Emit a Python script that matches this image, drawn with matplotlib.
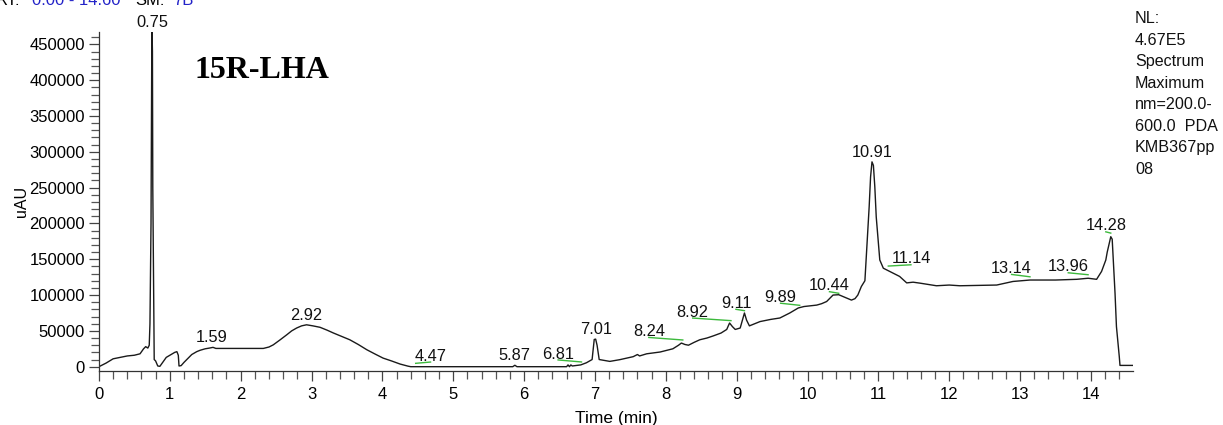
import numpy as np
import matplotlib
matplotlib.use("Agg")
import matplotlib.pyplot as plt
from matplotlib.ticker import MultipleLocator

plt.rcParams['font.family'] = ['Liberation Sans', 'DejaVu Sans']

# chromatogram trace: retention time (min) and detector response (uAU)
time_min = [0.00, 0.10, 0.20, 0.30, 0.40, 0.50, 0.58, 0.63, 0.66, 0.69,
            0.71, 0.72, 0.735, 0.745, 0.75, 0.755, 0.76, 0.775, 0.78, 0.80,
            0.83, 0.86, 0.90, 0.95, 1.02, 1.07, 1.10, 1.12, 1.13, 1.16,
            1.20, 1.25, 1.31, 1.38, 1.43, 1.50, 1.56, 1.61, 1.65, 2.32,
            2.40, 2.46, 2.55, 2.65, 2.72, 2.79, 2.86, 2.93, 3.02, 3.12,
            3.22, 3.31, 3.42, 3.54, 3.66, 3.78, 3.90, 4.01, 4.13, 4.25,
            4.36, 4.40, 5.84, 5.87, 5.90, 6.60, 6.62, 6.64, 6.66, 6.68,
            6.80, 6.88, 6.96, 6.99, 7.01, 7.03, 7.06, 7.21, 7.35, 7.45,
            7.54, 7.60, 7.63, 7.73, 7.92, 8.10, 8.18, 8.22, 8.27, 8.32,
            8.40, 8.48, 8.58, 8.67, 8.78, 8.86, 8.90, 8.94, 8.98, 9.05,
            9.09, 9.11, 9.14, 9.18, 9.33, 9.48, 9.61, 9.75, 9.87, 9.95,
            10.13, 10.20, 10.27, 10.36, 10.44, 10.50, 10.62, 10.67, 10.71, 10.76,
            10.81, 10.84, 10.87, 10.89, 10.91, 10.93, 10.95, 10.97, 11.00, 11.02,
            11.07, 11.16, 11.30, 11.40, 11.49, 11.59, 11.82, 12.00, 12.15, 12.67,
            12.90, 13.14, 13.50, 13.80, 13.96, 14.08, 14.15, 14.21, 14.23, 14.28,
            14.30, 14.34, 14.36, 14.40, 14.41, 14.59]
response = [0, 5000, 11000, 13000, 15000, 16000, 18000, 25000, 28000, 26000,
            30000, 60000, 200000, 430000, 467000, 440000, 250000, 60000, 10000, 8000,
            1000, 500, 6000, 13000, 17000, 20000, 21000, 16000, 1000, 1500,
            6000, 11000, 17000, 21000, 23000, 25000, 26000, 27000, 25500, 25500,
            27500, 30500, 37000, 44500, 50000, 54000, 57000, 58500, 57000, 55000,
            51000, 47000, 42500, 37600, 31000, 23700, 17500, 12000, 8000, 3700,
            800, 0, 0, 2000, 0, 0, 2500, 0, 2500, 1000,
            2500, 5500, 10000, 38000, 38500, 30000, 10000, 7400, 9800, 12000,
            14000, 17000, 15000, 18000, 20500, 25000, 30000, 33000, 31000, 30000,
            34000, 37600, 40000, 43000, 47000, 52000, 61000, 56000, 52000, 54000,
            68000, 75000, 65000, 57000, 63000, 66000, 68000, 75000, 82000, 84000,
            86000, 88000, 91000, 100000, 100500, 98000, 93000, 95000, 100000, 112000,
            120000, 172000, 223000, 265000, 286000, 281000, 251000, 209000, 172000, 149000,
            137500, 133000, 126000, 117000, 118000, 116600, 113000, 114000, 113000, 114000,
            119000, 121000, 121000, 122000, 123500, 122000, 133000, 149000, 160000, 181500,
            178000, 102600, 56000, 14000, 1800, 1800]

# annotated peaks: retention time, apex height, label anchor (x, y)
peak_rt = [0.75, 1.59, 2.92, 4.47, 5.87, 6.81, 7.01, 8.24, 8.92, 9.11,
           9.89, 10.44, 10.91, 11.14, 13.14, 13.96, 14.28]
peak_apex = [467000, 27000, 58500, 4700, 2000, 6600, 38500, 37300, 64300, 78200,
             85700, 102500, 286000, 140500, 125500, 128400, 186500]
label_x = [0.75, 1.59, 2.92, 4.68, 5.87, 6.48, 7.01, 7.76, 8.38, 8.99,
           9.62, 10.31, 10.91, 11.46, 12.88, 13.68, 14.21]
label_y = [471900, 32100, 63800, 6500, 7500, 9400, 43800, 40800, 67900, 80100,
           88600, 104700, 290400, 142300, 128800, 131100, 188300]

info_lines = ["NL:", "4.67E5", "Spectrum", "Maximum", "nm=200.0-",
              "600.0  PDA", "KMB367pp", "08"]

fig = plt.figure(figsize=(12.23, 4.25), dpi=100)
ax = fig.add_axes([0.0809, 0.1259, 0.8453, 0.7995])

ax.plot(time_min, response, color='#1a1a1a', lw=1.0)

for rt, apex, lx, ly in zip(peak_rt, peak_apex, label_x, label_y):
    if lx != rt:
        ax.plot([lx, rt], [ly, apex], color='#3cb93c', lw=1.0)
    ax.annotate(f"{rt:.2f}", (lx, ly), xytext=(0, 1), textcoords='offset points',
                ha='center', va='baseline', fontsize=11.8, color='#111111',
                annotation_clip=False)

ax.set_xlim(0, 14.59)
ax.set_ylim(-6700, 467700)

ax.xaxis.set_major_locator(MultipleLocator(1))
ax.xaxis.set_minor_locator(MultipleLocator(0.2))
ax.yaxis.set_major_locator(MultipleLocator(50000))
ax.yaxis.set_minor_locator(MultipleLocator(10000))

for side in ['top', 'right']:
    ax.spines[side].set_visible(False)
for side in ['left', 'bottom']:
    ax.spines[side].set_color('#333333')
    ax.spines[side].set_linewidth(0.9)

ax.tick_params(axis='both', which='major', length=7.5, width=0.9, color='#444444',
               labelsize=12, pad=2.5)
ax.tick_params(axis='x', which='major', pad=4)
ax.tick_params(axis='both', which='minor', length=5.5, width=0.9, color='#555555')

ax.set_xlabel('Time (min)', fontsize=12.5, labelpad=6.5)
ax.set_ylabel('uAU', fontsize=11.5, labelpad=0.5)

# sample name
fig.text(0.1594, 0.8158, '15R-LHA', family='Liberation Serif', fontweight='bold',
         fontsize=23, va='baseline')

# header line, partly cut off by the top edge
fig.text(20 / 1223, 0.988, 'RT:', fontsize=12, ha='right', va='baseline')
fig.text(31.7 / 1223, 0.988, '0.00 - 14.60', fontsize=12, color='#2323c8', va='baseline')
fig.text(135 / 1223, 0.988, 'SM:', fontsize=12, va='baseline')
fig.text(172.7 / 1223, 0.988, '7B', fontsize=12, color='#2323c8', va='baseline')

# acquisition info on the right
for i, line in enumerate(info_lines):
    fig.text(1135 / 1223, 1 - (23.3 + 21.5 * i) / 425, line, fontsize=11.6,
             va='baseline', color='#111111')

fig.savefig('out.png', dpi=100)
